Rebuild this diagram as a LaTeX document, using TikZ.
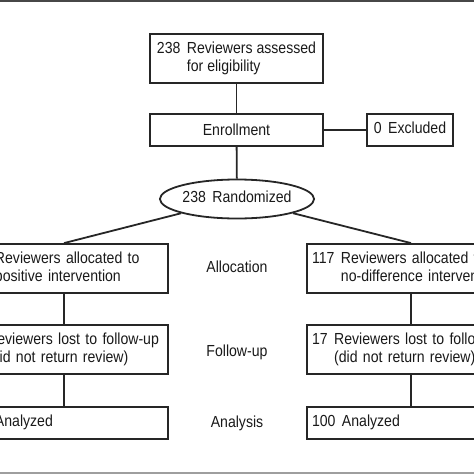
\documentclass[tikz,border=0pt]{standalone}
\usepackage{fontspec}
\setmainfont[FakeStretch=0.88]{Liberation Sans}
\usetikzlibrary{shapes.geometric}
\definecolor{inkgray}{HTML}{262626}
\newcommand{\numtab}[2]{#1\hspace{6.5pt}\begin{tabular}[t]{@{}l@{}}#2\end{tabular}}
\begin{document}
\begin{tikzpicture}[x=1pt, y=-1pt,
  font=\fontsize{16}{18}\selectfont, text=black!90,
  box/.style={draw=inkgray, line width=1.8pt, inner xsep=5pt, align=left},
  wide/.style={text width=198pt},
  tall/.style={minimum height=49pt},
  short/.style={minimum height=32pt},
  link/.style={draw=inkgray, line width=1.8pt}]
\path[use as bounding box, clip] (0,0) rectangle (474,474);
\fill[fill=black!72] (0,0) rectangle (474,2.3);
\fill[fill=black!38] (0,471.7) rectangle (474,474);
% top of the chart
\node[box, tall, minimum width=173pt] (elig) at (236.5,58.5){\numtab{238}{Reviewers assessed\\for eligibility}};
\node[box, short, minimum width=173pt] (enroll) at (236.5,130){Enrollment};
\node[box, short, minimum width=86pt] (excl) at (410,130){\numtab{0}{Excluded}};
\node[draw=inkgray, line width=1.8pt, ellipse, minimum width=151pt, minimum height=39pt, inner sep=0pt] (rand) at (237,199){\numtab{238}{Randomized}};
% left arm
\node[box, tall, wide] (alloc1) at (64,268.5){\numtab{\phantom{000}}{Reviewers allocated to\\positive intervention}};
\node[box, tall, wide] (fol1) at (64,349.5){\numtab{\phantom{00}}{Reviewers lost to follow-up\\(did not return review)}};
\node[box, short, wide] (ana1) at (64,423){\numtab{\phantom{000}}{Analyzed}};
% right arm
\node[box, tall, wide] (alloc2) at (411,268.5){\numtab{117}{Reviewers allocated to\\no-difference intervention}};
\node[box, tall, wide] (fol2) at (411,349.5){\numtab{17}{Reviewers lost to follow-up\\(did not return review)}};
\node[box, short, wide] (ana2) at (411,423){\numtab{100}{Analyzed}};
% stage names
\node (lalloc) at (237,267){Allocation};
\node (lfol) at (237,352){Follow-up};
\node (lana) at (237,423){Analysis};
\draw[link] (elig) -- (enroll);
\draw[link] (enroll) -- (excl);
\draw[link] (enroll) -- (rand);
\draw[link] (rand) -- (alloc1.north);
\draw[link] (rand) -- (alloc2.north);
\draw[link] (alloc1) -- (fol1);
\draw[link] (fol1) -- (ana1);
\draw[link] (alloc2) -- (fol2);
\draw[link] (fol2) -- (ana2);
\end{tikzpicture}
\end{document}
